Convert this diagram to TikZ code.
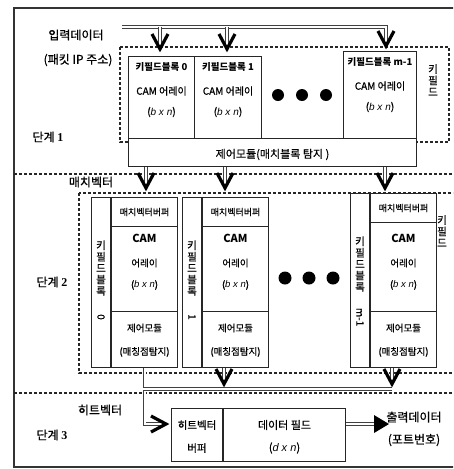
\documentclass[tikz,border=0pt]{standalone}
\usepackage{fontspec}
\setmainfont{Noto Sans CJK KR}[UprightFeatures={FakeBold=0.6}]
\newfontfamily\latf{Liberation Sans}
\newfontfamily\serf{Liberation Serif}
\usetikzlibrary{positioning,calc}

\tikzset{
  frame/.style={draw=black!80,line width=1.3pt},
  zone/.style={draw=black!85,line width=1.2pt,dash pattern=on 3pt off 2pt},
  box/.style={draw=black!85,line width=1pt,fill=white,inner sep=0pt,anchor=north west},
  bus/.style={draw=black!75,line width=0.9pt,double=white,double distance=2pt},
  headv/.style={draw=black,line width=3.2pt,line join=miter},
  big/.style={inner sep=0pt,font=\fontsize{12}{13}\selectfont},
  txt/.style={inner sep=0pt,font=\fontsize{10}{11}\selectfont},
  sml/.style={inner sep=0pt,font=\fontsize{9.5}{10}\selectfont},
  ttl/.style={inner sep=0pt,font=\bfseries\fontsize{9.5}{10}\selectfont},
  stack/.style={inner sep=0pt,align=center,font=\fontsize{10.5}{11.4}\selectfont},
}

\newcommand{\bxn}[1]{{\latf\itshape #1 x n}}
\newcommand{\stagenum}[1]{{\serf\bfseries #1}}

% arrow heads on the double lines
\newcommand{\headdown}[1]{%
  \draw[headv] ([xshift=-8pt,yshift=15pt]#1) -- (#1) -- ([xshift=8pt,yshift=15pt]#1);}
\newcommand{\headright}[1]{%
  \draw[headv] ([xshift=-15pt,yshift=8pt]#1) -- (#1) -- ([xshift=-15pt,yshift=-8pt]#1);}

% stage 1 block: name, left, top, width, title
\newcommand{\keyblock}[5]{%
  \node[box,minimum width=#4pt,minimum height={(138-#3)*1pt}] (#1) at (#2,#3) {};
  \node[ttl] (#1t) at ($(#1.north)+(0,-11pt)$) {#5};
  \node[txt] (#1c) at ($(#1.north)+(0,-35pt)$) {CAM 어레이};
  \node[txt] (#1d) at ($(#1.north)+(0,-56pt)$) {(\bxn{b})};
}

% stage 2 block: name, strip left, top, number
\newcommand{\matchblock}[4]{%
  \node[box,minimum width=19pt,minimum height={(367-#3)*1pt}] (#1s) at (#2,#3) {};
  \node[box,minimum width=66pt,minimum height={(367-#3)*1pt}] (#1) at (#1s.north east) {};
  \node[box,minimum width=66pt,minimum height=29pt] (#1b) at (#1.north west) {};
  \node[box,minimum width=66pt,minimum height=56pt,anchor=south west] (#1r) at (#1.south west) {};
  \node[sml,font=\fontsize{9}{10}\selectfont] at (#1b) {매치벡터버퍼};
  \node[txt,font=\bfseries\fontsize{11}{12}\selectfont] at ($(#1.south)+(0,130pt)$) {CAM};
  \node[sml] at ($(#1.south)+(0,105pt)$) {어레이};
  \node[sml] at ($(#1.south)+(0,83pt)$) {(\bxn{b})};
  \node[sml] at ($(#1.south)+(0,40pt)$) {제어모듈};
  \node[sml] at ($(#1.south)+(0,16pt)$) {(매칭점탐지)};
  \node[stack] (#1k) at ($(#1s.north)+(0,-71pt)$) {키\\필\\드\\블\\록};
  \node[txt,rotate=-90] (#1n) at ($(#1s.south)+(0,51pt)$) {#4};
}

\begin{document}
\begin{tikzpicture}[x=1pt,y=-1pt]
  \useasboundingbox (0,0) rectangle (453,469);
  \clip (0,0) rectangle (453,469);
  \draw[frame] (14,8) rectangle (470,467);

  % stage borders
  \draw[zone] (120,47) rectangle (449,142);
  \draw[zone] (79,193) rectangle (470,373);
  \draw[zone] (14,174) -- (453,174);
  \draw[zone] (14,393) -- (453,393);

  % stage 1
  \node[big] (in) at (76,35) {입력데이터};
  \node[big] (inip) at (78,60) {(패킷 IP 주소)};
  \node[big] (st1) at (48,137) {단계 \stagenum{1}};
  \keyblock{kb0}{128}{56}{66}{키필드블록 0}
  \keyblock{kb1}{194}{56}{67}{키필드블록 1}
  \keyblock{kbm}{343}{51}{73}{키필드블록 m-1}
  \node[box,minimum width=288pt,minimum height=28pt] (ctl1) at (128,138) {};
  \node[txt,font=\fontsize{11}{12}\selectfont] (ctl1t) at ($(ctl1.center)+(0,-2pt)$) {제어모듈(매치블록 탐지 )};
  \foreach \x in {278,302,326} \fill (\x,95) circle (6pt);
  \node[stack] (kf1) at (433,80) {키\\필\\드};

  \coordinate (inL) at (122,27);
  \coordinate (h0) at (160,49);
  \coordinate (h1) at (227,49);
  \coordinate (hm) at (386,46);
  \draw[bus] (inL) -| (hm);
  \draw[bus] (inL -| h0) -- (h0);
  \draw[bus] (inL -| h1) -- (h1);
  \headdown{h0} \headdown{h1} \headdown{hm}

  % stage 2
  \node[big] (mv) at (91,182) {매치벡터};
  \node[big] (st2) at (52,282) {단계 \stagenum{2}};
  \matchblock{mb0}{91}{197}{0}
  \matchblock{mb1}{182}{197}{1}
  \matchblock{mbm}{350}{193}{m-1}
  \foreach \x in {285,309,333} \fill (\x,278) circle (6.5pt);
  \node[stack] (kf2) at (442,231) {키\\필\\드};

  \coordinate (g0) at (146,188);
  \coordinate (g1) at (225,188);
  \coordinate (gm) at (385,188);
  \foreach \g in {g0,g1,gm} {\draw[bus] (ctl1.south -| \g) -- (\g); \headdown{\g}}

  % stage 3
  \node[big] (hvl) at (100,410) {히트벡터};
  \node[big] (st3) at (52,435) {단계 \stagenum{3}};
  \node[box,minimum width=51pt,minimum height=53pt] (hv) at (171,408) {};
  \node[box,minimum width=122pt,minimum height=53pt] (df) at (hv.north east) {};
  \node[txt,font=\fontsize{10.5}{11}\selectfont] at ($(hv.center)+(0,10pt)$) {히트벡터};
  \node[txt,font=\fontsize{10.5}{11}\selectfont] at ($(hv.center)+(0,-13pt)$) {버퍼};
  \node[txt,font=\fontsize{11}{12}\selectfont] at ($(df.center)+(0,10pt)$) {데이터 필드};
  \node[txt,font=\fontsize{11}{12}\selectfont] at ($(df.center)+(0,-13pt)$) {(\bxn{d})};

  \coordinate (hrow) at (0,424);
  \coordinate (hin) at (166,424);
  \coordinate (bL) at (143,389);
  \coordinate (bR) at (392,389);
  \coordinate (j1) at (224,384);
  \coordinate (jm) at (392,384);
  \draw[bus] (mb0.south) |- (hin);
  \draw[bus] (bR) -- (bL);
  \draw[bus] (mb1.south -| j1) -- (j1);
  \draw[bus] (mbm.south -| jm) -- (jm);
  \headdown{j1} \headdown{jm} \headright{hin}

  \node[big] (out) at (414,417) {출력데이터};
  \node[big] (outp) at (414,440) {(포트번호)};
  \coordinate (otip) at (389,424);
  \draw[bus] (df.east |- hrow) -- ([xshift=-10pt]otip);
  \fill ([xshift=-15pt,yshift=9pt]otip) -- (otip) -- ([xshift=-15pt,yshift=-9pt]otip) -- cycle;
\end{tikzpicture}
\end{document}
